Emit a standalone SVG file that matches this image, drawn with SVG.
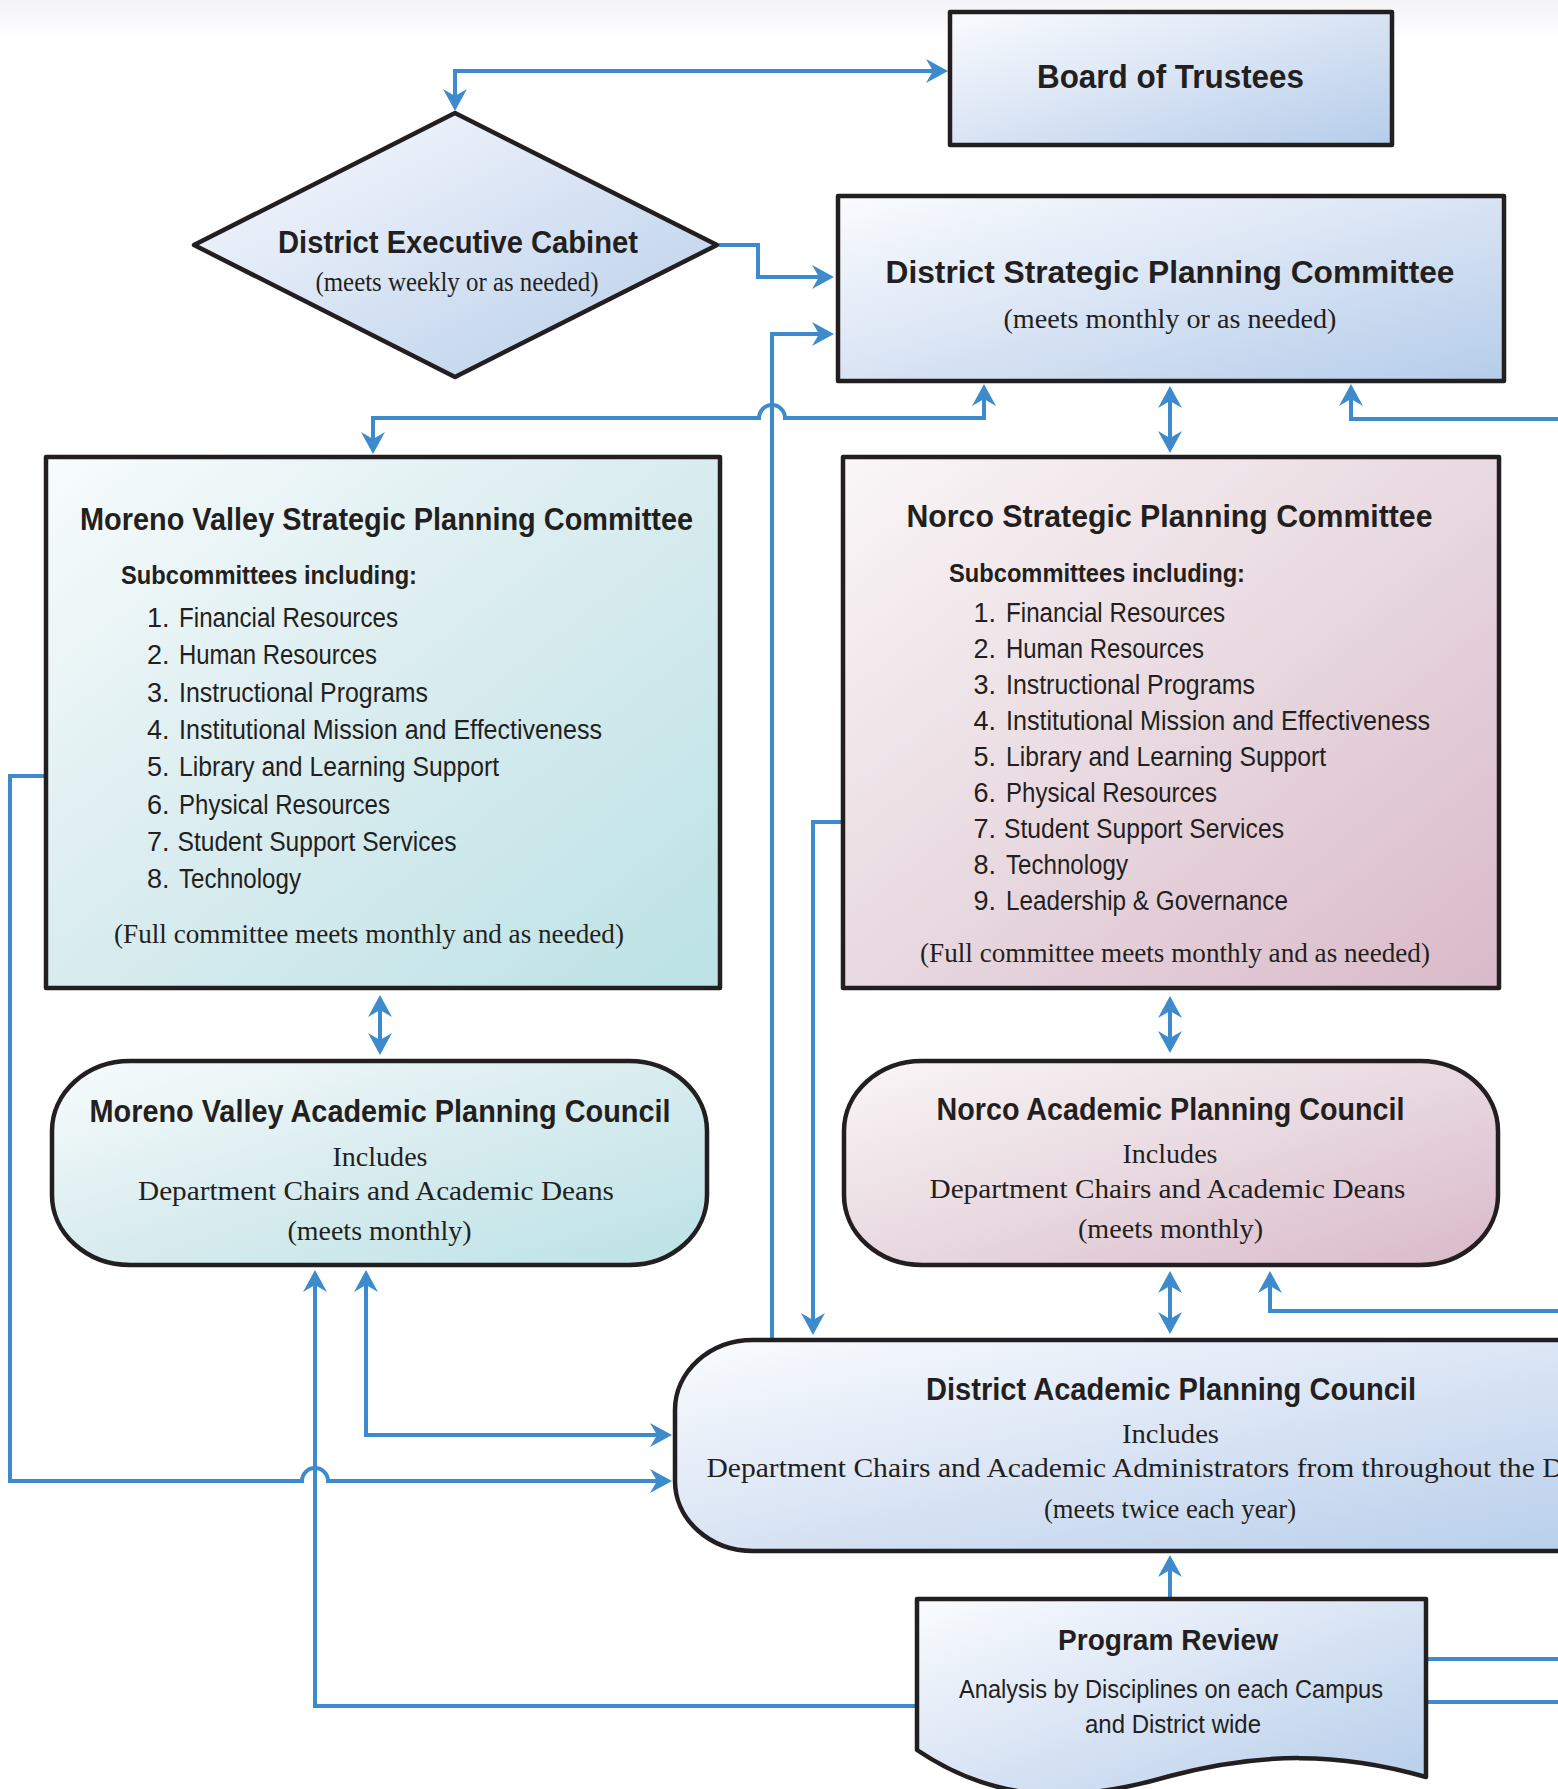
<svg xmlns="http://www.w3.org/2000/svg" width="1558" height="1789" viewBox="0 0 1558 1789">
<style>
.t{font-family:"Liberation Sans Narrow","Liberation Sans",Arial,sans-serif;font-weight:bold;fill:#231f20}
.i{font-family:"Liberation Sans Narrow","Liberation Sans",Arial,sans-serif;font-weight:normal;fill:#231f20}
.s{font-family:"Liberation Serif","Times New Roman",serif;fill:#231f20}
.box{stroke:#231f20;stroke-width:4.5;stroke-linejoin:round}
.c{stroke:#3d8bcd;stroke-width:4;fill:none}
.a{marker-end:url(#ah)}
.b{marker-start:url(#ah);marker-end:url(#ah)}
</style>
<defs>
<linearGradient id="gBlue" x1="0" y1="0" x2="1" y2="1">
<stop offset="0" stop-color="#fafcfe"/><stop offset="0.45" stop-color="#dce6f5"/><stop offset="1" stop-color="#b5cdea"/>
</linearGradient>
<linearGradient id="gTeal" x1="0" y1="0" x2="1" y2="1">
<stop offset="0" stop-color="#f8fcfc"/><stop offset="0.45" stop-color="#dbedf0"/><stop offset="1" stop-color="#bbe2e5"/>
</linearGradient>
<linearGradient id="gPink" x1="0" y1="0" x2="1" y2="1">
<stop offset="0" stop-color="#faf6f7"/><stop offset="0.45" stop-color="#eadce2"/><stop offset="1" stop-color="#d9b9c9"/>
</linearGradient>
<linearGradient id="gTop" x1="0" y1="0" x2="0" y2="1">
<stop offset="0" stop-color="#f3f3f7"/><stop offset="1" stop-color="#ffffff"/>
</linearGradient>
<marker id="ah" markerUnits="userSpaceOnUse" markerWidth="30" markerHeight="30" refX="0" refY="0" orient="auto-start-reverse" overflow="visible">
<path d="M14,0 L-8,-12 L-1,0 L-8,12 Z" fill="#3d8bcd"/>
</marker>
</defs>
<rect x="0" y="0" width="1558" height="1789" fill="#ffffff"/>
<rect x="0" y="0" width="1558" height="40" fill="url(#gTop)"/>

<g id="connectors">
<path class="c b" d="M455,97 V71 H934"/>
<path class="c a" d="M719,245 H758 V277 H820"/>
<path class="c a" d="M772,1338 V334 H820"/>
<path class="c b" d="M984,398 V418 H785 A13,13 0 0 0 759,418 H373 V440"/>
<path class="c b" d="M1170,400 V439"/>
<path class="c a" d="M1570,419 H1351 V398"/>
<path class="c a" d="M44,776 H10 V1481 H302 A13,13 0 0 1 328,1481 H658"/>
<path class="c b" d="M366,1284 V1435 H658"/>
<path class="c a" d="M915,1706 H315 V1284"/>
<path class="c a" d="M842,822 H813 V1321"/>
<path class="c b" d="M1170,1010 V1039"/>
<path class="c b" d="M380,1009 V1041"/>
<path class="c b" d="M1170,1285 V1320"/>
<path class="c a" d="M1570,1311 H1270 V1285"/>
<path class="c a" d="M1170,1597 V1569"/>
<path class="c" d="M1428,1659 H1570"/>
<path class="c" d="M1428,1702 H1570"/>
</g>

<g id="board">
<rect class="box" x="950" y="12" width="442" height="133" fill="url(#gBlue)"/>
<text class="t" x="1170.5" y="88" font-size="33" text-anchor="middle" textLength="267" lengthAdjust="spacingAndGlyphs">Board of Trustees</text>
</g>

<g id="cabinet">
<path class="box" d="M455,113 L717,245 L455,377 L194,245 Z" fill="url(#gBlue)"/>
<text class="t" x="458" y="253" font-size="32" text-anchor="middle" textLength="360" lengthAdjust="spacingAndGlyphs">District Executive Cabinet</text>
<text class="s" x="457" y="291" font-size="27" text-anchor="middle" textLength="283" lengthAdjust="spacingAndGlyphs">(meets weekly or as needed)</text>
</g>

<g id="dspc">
<rect class="box" x="838" y="196" width="666" height="185" fill="url(#gBlue)"/>
<text class="t" x="1170" y="283" font-size="32" text-anchor="middle" textLength="569" lengthAdjust="spacingAndGlyphs">District Strategic Planning Committee</text>
<text class="s" x="1170" y="328" font-size="28" text-anchor="middle" textLength="333" lengthAdjust="spacingAndGlyphs">(meets monthly or as needed)</text>
</g>

<g id="mvspc">
<rect class="box" x="46" y="457" width="674" height="531" fill="url(#gTeal)"/>
<text class="t" x="386.5" y="530" font-size="32" text-anchor="middle" textLength="613" lengthAdjust="spacingAndGlyphs">Moreno Valley Strategic Planning Committee</text>
<text class="t" x="121" y="584" font-size="26" textLength="296" lengthAdjust="spacingAndGlyphs">Subcommittees including:</text>
<g class="i" font-size="27">
<text x="147" y="627">1.</text><text x="179" y="627" textLength="219" lengthAdjust="spacingAndGlyphs">Financial Resources</text>
<text x="147" y="664">2.</text><text x="179" y="664" textLength="198" lengthAdjust="spacingAndGlyphs">Human Resources</text>
<text x="147" y="702">3.</text><text x="179" y="702" textLength="249" lengthAdjust="spacingAndGlyphs">Instructional Programs</text>
<text x="147" y="739">4.</text><text x="179" y="739" textLength="423" lengthAdjust="spacingAndGlyphs">Institutional Mission and Effectiveness</text>
<text x="147" y="776">5.</text><text x="179" y="776" textLength="320" lengthAdjust="spacingAndGlyphs">Library and Learning Support</text>
<text x="147" y="814">6.</text><text x="179" y="814" textLength="211" lengthAdjust="spacingAndGlyphs">Physical Resources</text>
<text x="147" y="851">7.</text><text x="177.5" y="851" textLength="279" lengthAdjust="spacingAndGlyphs">Student Support Services</text>
<text x="147" y="888">8.</text><text x="179" y="888" textLength="122" lengthAdjust="spacingAndGlyphs">Technology</text>
</g>
<text class="s" x="369" y="943" font-size="27" text-anchor="middle" textLength="510" lengthAdjust="spacingAndGlyphs">(Full committee meets monthly and as needed)</text>
</g>

<g id="norcospc">
<rect class="box" x="843" y="457" width="656" height="531" fill="url(#gPink)"/>
<text class="t" x="1169.5" y="527" font-size="32" text-anchor="middle" textLength="526" lengthAdjust="spacingAndGlyphs">Norco Strategic Planning Committee</text>
<text class="t" x="949" y="582" font-size="26" textLength="296" lengthAdjust="spacingAndGlyphs">Subcommittees including:</text>
<g class="i" font-size="27">
<text x="973.5" y="621.5">1.</text><text x="1006" y="621.5" textLength="219" lengthAdjust="spacingAndGlyphs">Financial Resources</text>
<text x="973.5" y="657.5">2.</text><text x="1006" y="657.5" textLength="198" lengthAdjust="spacingAndGlyphs">Human Resources</text>
<text x="973.5" y="693.5">3.</text><text x="1006" y="693.5" textLength="249" lengthAdjust="spacingAndGlyphs">Instructional Programs</text>
<text x="973.5" y="729.5">4.</text><text x="1006" y="729.5" textLength="424" lengthAdjust="spacingAndGlyphs">Institutional Mission and Effectiveness</text>
<text x="973.5" y="765.5">5.</text><text x="1006" y="765.5" textLength="320" lengthAdjust="spacingAndGlyphs">Library and Learning Support</text>
<text x="973.5" y="801.5">6.</text><text x="1006" y="801.5" textLength="211" lengthAdjust="spacingAndGlyphs">Physical Resources</text>
<text x="973.5" y="837.5">7.</text><text x="1004" y="837.5" textLength="280" lengthAdjust="spacingAndGlyphs">Student Support Services</text>
<text x="973.5" y="873.5">8.</text><text x="1006" y="873.5" textLength="122" lengthAdjust="spacingAndGlyphs">Technology</text>
<text x="973.5" y="909.5">9.</text><text x="1006" y="909.5" textLength="282" lengthAdjust="spacingAndGlyphs">Leadership &amp; Governance</text>
</g>
<text class="s" x="1175" y="962" font-size="27" text-anchor="middle" textLength="510" lengthAdjust="spacingAndGlyphs">(Full committee meets monthly and as needed)</text>
</g>

<g id="mvapc">
<rect class="box" x="52" y="1061" width="655" height="204" rx="78" ry="70" fill="url(#gTeal)"/>
<text class="t" x="380" y="1122" font-size="31" text-anchor="middle" textLength="581" lengthAdjust="spacingAndGlyphs">Moreno Valley Academic Planning Council</text>
<text class="s" x="380" y="1166" font-size="27" text-anchor="middle" textLength="95" lengthAdjust="spacingAndGlyphs">Includes</text>
<text class="s" x="376" y="1200" font-size="27" text-anchor="middle" textLength="476" lengthAdjust="spacingAndGlyphs">Department Chairs and Academic Deans</text>
<text class="s" x="379.5" y="1240" font-size="27" text-anchor="middle" textLength="184" lengthAdjust="spacingAndGlyphs">(meets monthly)</text>
</g>

<g id="norcoapc">
<rect class="box" x="844" y="1061" width="654" height="204" rx="78" ry="70" fill="url(#gPink)"/>
<text class="t" x="1170.5" y="1120" font-size="31" text-anchor="middle" textLength="468" lengthAdjust="spacingAndGlyphs">Norco Academic Planning Council</text>
<text class="s" x="1170" y="1163" font-size="27" text-anchor="middle" textLength="95" lengthAdjust="spacingAndGlyphs">Includes</text>
<text class="s" x="1167.5" y="1198" font-size="27" text-anchor="middle" textLength="476" lengthAdjust="spacingAndGlyphs">Department Chairs and Academic Deans</text>
<text class="s" x="1170.5" y="1238" font-size="27" text-anchor="middle" textLength="185" lengthAdjust="spacingAndGlyphs">(meets monthly)</text>
</g>

<g id="dapc">
<rect class="box" x="675" y="1340" width="990" height="211" rx="78" ry="70" fill="url(#gBlue)"/>
<text class="t" x="1171" y="1400" font-size="31" text-anchor="middle" textLength="490" lengthAdjust="spacingAndGlyphs">District Academic Planning Council</text>
<text class="s" x="1170.5" y="1443" font-size="27" text-anchor="middle" textLength="97" lengthAdjust="spacingAndGlyphs">Includes</text>
<text class="s" x="706.5" y="1477" font-size="28" textLength="857" lengthAdjust="spacingAndGlyphs">Department Chairs and Academic Administrators from throughout the D</text>
<text class="s" x="1170" y="1518" font-size="27" text-anchor="middle" textLength="252" lengthAdjust="spacingAndGlyphs">(meets twice each year)</text>
</g>

<g id="programreview">
<path class="box" d="M917,1599 H1426 V1777 C1340,1752 1260,1752 1170,1776 C1080,1802 1000,1806 917,1750 Z" fill="url(#gBlue)"/>
<text class="t" x="1168" y="1650" font-size="30" text-anchor="middle" textLength="220" lengthAdjust="spacingAndGlyphs">Program Review</text>
<text class="i" x="1171" y="1698" font-size="25" text-anchor="middle" textLength="424" lengthAdjust="spacingAndGlyphs">Analysis by Disciplines on each Campus</text>
<text class="i" x="1173" y="1733" font-size="25" text-anchor="middle" textLength="176" lengthAdjust="spacingAndGlyphs">and District wide</text>
</g>
</svg>
